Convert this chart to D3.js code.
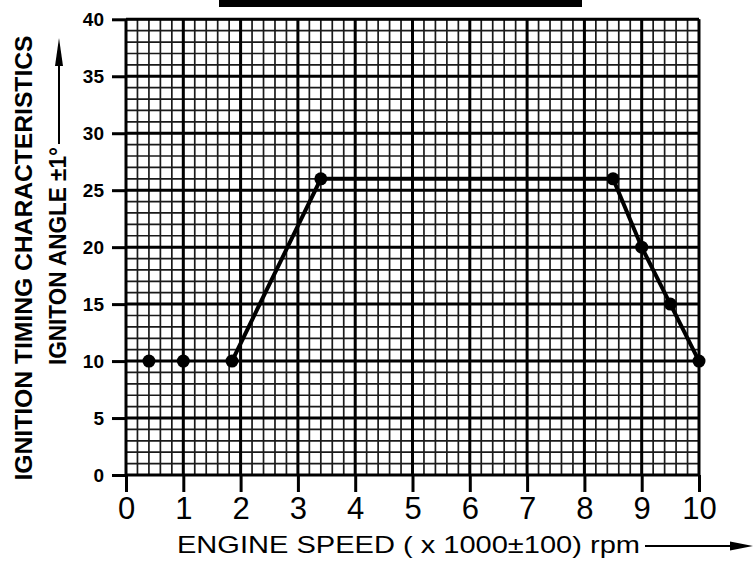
<!DOCTYPE html>
<html lang="en">
<head>
    <meta charset="UTF-8">
    <title>Ignition Timing Characteristics</title>
    <script src="https://d3js.org/d3.v7.min.js"></script>
    <style>
        body { margin: 0; background: #fff; font-family: "Liberation Sans", Arial, sans-serif; }
        svg { display: block; }
    </style>
</head>
<body>
    <div id="chart"></div>

    <script>
        // points (engine speed x1000 rpm, ignition angle deg)
        const looseSpeed = [0.4, 1];
        const looseAngle = [10, 10];
        const curveSpeed = [1.85, 3.4, 8.5, 9, 9.5, 10];
        const curveAngle = [10, 26, 26, 20, 15, 10];

        const xTicks = [0, 1, 2, 3, 4, 5, 6, 7, 8, 9, 10];
        const yTicks = [0, 5, 10, 15, 20, 25, 30, 35, 40];

        const width = 754, height = 561;
        const svg = d3.select("#chart").append("svg").attr("width", width).attr("height", height);

        const x = d3.scaleLinear().domain([0, 10]).range([126, 699]);
        const y = d3.scaleLinear().domain([0, 40]).range([475, 19.3]);

        // cut-off title underline at the very top
        svg.append("rect")
            .attr("x", 219).attr("y", 0)
            .attr("width", 363).attr("height", 7)
            .attr("fill", "#000");

        // graph paper: minor lines
        const grid = svg.append("g");
        grid.selectAll(".vminor")
            .data(x.ticks(50))
            .enter().append("line")
            .attr("x1", d => x(d)).attr("x2", d => x(d))
            .attr("y1", y(0)).attr("y2", y(40))
            .attr("stroke", "#1a1a1a")
            .attr("stroke-width", 1.7);
        grid.selectAll(".hminor")
            .data(y.ticks(40))
            .enter().append("line")
            .attr("x1", x(0)).attr("x2", x(10))
            .attr("y1", d => y(d)).attr("y2", d => y(d))
            .attr("stroke", "#1a1a1a")
            .attr("stroke-width", 1.7);

        // major lines
        grid.selectAll(".vmajor")
            .data(xTicks)
            .enter().append("line")
            .attr("x1", d => x(d)).attr("x2", d => x(d))
            .attr("y1", y(0)).attr("y2", y(40))
            .attr("stroke", "#000")
            .attr("stroke-width", 3);
        grid.selectAll(".hmajor")
            .data(yTicks)
            .enter().append("line")
            .attr("x1", x(0)).attr("x2", x(10))
            .attr("y1", d => y(d)).attr("y2", d => y(d))
            .attr("stroke", "#000")
            .attr("stroke-width", 3);

        // axes
        const yAxis = svg.append("g")
            .attr("transform", `translate(${x(0)},0)`)
            .call(d3.axisLeft(y).tickValues(yTicks).tickSize(14).tickPadding(8));
        yAxis.select(".domain").remove();
        yAxis.selectAll(".tick line").attr("stroke", "#000").attr("stroke-width", 3);
        yAxis.selectAll(".tick text")
            .attr("font-family", "'Liberation Sans', Arial, sans-serif")
            .attr("font-weight", "bold")
            .attr("font-size", 19)
            .attr("fill", "#000");

        const xAxis = svg.append("g")
            .attr("transform", `translate(0,${y(0)})`)
            .call(d3.axisBottom(x).tickValues(xTicks).tickSize(17).tickPadding(5));
        xAxis.select(".domain").remove();
        xAxis.selectAll(".tick line").attr("stroke", "#000").attr("stroke-width", 3);
        xAxis.selectAll(".tick text")
            .attr("font-family", "'Liberation Sans', Arial, sans-serif")
            .attr("font-size", 31)
            .attr("fill", "#000");

        // the timing curve
        const curve = curveSpeed.map((s, i) => [s, curveAngle[i]]);
        svg.append("path")
            .datum(curve)
            .attr("d", d3.line().x(d => x(d[0])).y(d => y(d[1])))
            .attr("fill", "none")
            .attr("stroke", "#000")
            .attr("stroke-width", 4);

        const pts = looseSpeed.map((s, i) => [s, looseAngle[i]]).concat(curve);
        svg.selectAll(".pt")
            .data(pts)
            .enter().append("circle")
            .attr("cx", d => x(d[0]))
            .attr("cy", d => y(d[1]))
            .attr("r", 6.5)
            .attr("fill", "#000");

        // x axis title + arrow
        svg.append("text")
            .attr("x", 177).attr("y", 553)
            .attr("font-size", 24)
            .attr("textLength", 463)
            .attr("lengthAdjust", "spacingAndGlyphs")
            .text("ENGINE SPEED ( x 1000±100) rpm");
        svg.append("line")
            .attr("x1", 645).attr("x2", 735)
            .attr("y1", 546).attr("y2", 546)
            .attr("stroke", "#000").attr("stroke-width", 2);
        svg.append("path")
            .attr("d", "M730,541.5L753,546L730,550.5Z")
            .attr("fill", "#000");

        // y axis titles (rotated) + arrow
        svg.append("text")
            .attr("transform", "translate(32,258) rotate(-90)")
            .attr("text-anchor", "middle")
            .attr("font-size", 24)
            .attr("font-weight", "bold")
            .attr("textLength", 445)
            .attr("lengthAdjust", "spacingAndGlyphs")
            .text("IGNITION TIMING CHARACTERISTICS");
        svg.append("text")
            .attr("transform", "translate(66,256) rotate(-90)")
            .attr("text-anchor", "middle")
            .attr("font-size", 24)
            .attr("font-weight", "bold")
            .attr("textLength", 218)
            .attr("lengthAdjust", "spacingAndGlyphs")
            .text("IGNITON ANGLE ±1°");
        svg.append("line")
            .attr("x1", 59).attr("x2", 59)
            .attr("y1", 144).attr("y2", 60)
            .attr("stroke", "#000").attr("stroke-width", 2);
        svg.append("path")
            .attr("d", "M55,66L59,38L63,66Z")
            .attr("fill", "#000");
    </script>
</body>
</html>
